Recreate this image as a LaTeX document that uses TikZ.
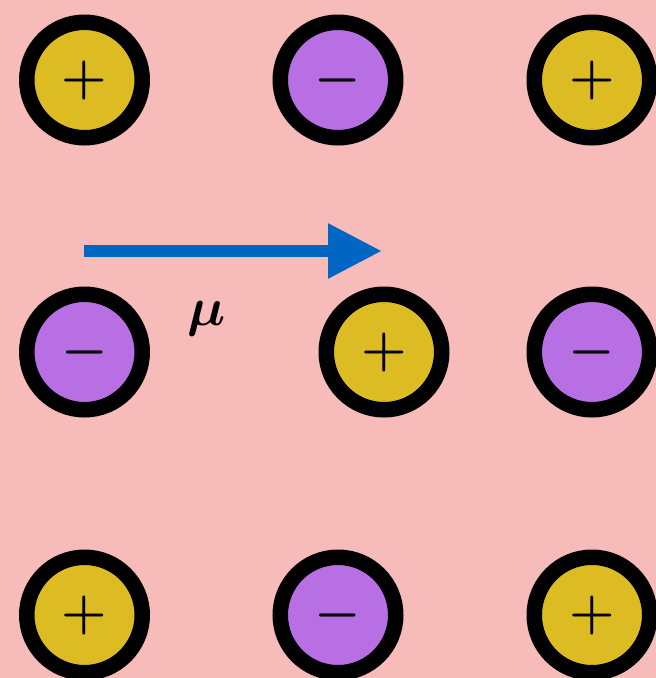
\RequirePackage{fix-cm}
\documentclass[tikz,border=0pt]{standalone}
\usepackage{bm}
\usetikzlibrary{arrows.meta}
\definecolor{bgpink}{HTML}{F7BCBA}
\definecolor{ionyellow}{HTML}{DCBC22}
\definecolor{ionpurple}{HTML}{B86FE4}
\definecolor{arrowblue}{HTML}{0066C3}
\tikzset{
  ion/.style={circle, draw=black, line width=15.5pt, minimum size=115.5pt, inner sep=0pt,
    font=\fontsize{52}{52}\selectfont\boldmath},
  cation/.style={ion, fill=ionyellow},
  anion/.style={ion, fill=ionpurple},
  dipole/.style={draw=arrowblue, line width=12pt, -{Triangle[length=54pt,width=52pt]}},
}
\begin{document}
\begin{tikzpicture}[x=1pt,y=-1pt]
\fill[bgpink] (0,0) rectangle (656,678);
\useasboundingbox (0,0) rectangle (656,678);
\node[cation] (p1) at (84.5,80) {$+$};
\node[anion] (n1) at (338,80) {$-$};
\node[cation] (p2) at (592,80) {$+$};
\node[anion] (n2) at (84.5,352) {$-$};
\node[cation] (p3) at (384,352) {$+$};
\node[anion] (n3) at (592,352) {$-$};
\node[cation] (p4) at (84.5,615) {$+$};
\node[anion] (n4) at (338,615) {$-$};
\node[cation] (p5) at (592,615) {$+$};
\coordinate (a1) at (84,251);
\coordinate (a2) at (382,251);
\draw[dipole] (a1) -- (a2);
\node[font=\fontsize{54}{54}\selectfont, inner sep=0pt] (mu) at (207,319) {$\bm{\mu}$};
\end{tikzpicture}
\end{document}
